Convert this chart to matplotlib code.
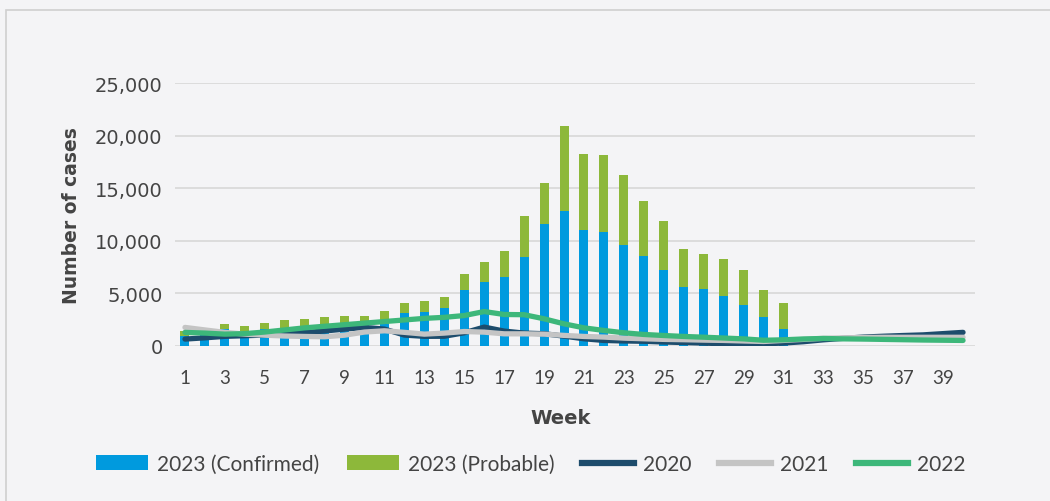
import matplotlib
matplotlib.use("Agg")
import matplotlib.pyplot as plt
from matplotlib.patches import Rectangle, Patch
from matplotlib.lines import Line2D
from matplotlib.ticker import FuncFormatter, MultipleLocator

weeks = list(range(1, 41))
weeks_2023 = list(range(1, 32))
confirmed_2023 = [900, 1100, 1580, 1300, 1580, 1650, 1700, 1800, 1900, 2000,
                  2100, 3100, 3200, 3600, 5300, 6070, 6580, 8480, 11590, 12830,
                  11020, 10830, 9590, 8550, 7220, 5600, 5410, 4740, 3880, 2740, 1600]
total_2023 = [1400, 1680, 2060, 1870, 2150, 2470, 2530, 2720, 2820, 2820,
              3290, 4050, 4240, 4620, 6820, 7970, 9020, 12350, 15490, 20900,
              18240, 18150, 16250, 13780, 11880, 9220, 8720, 8250, 7210, 5310, 4080]
probable_2023 = [t - c for t, c in zip(total_2023, confirmed_2023)]

cases_2020 = [630, 750, 890, 950, 1010, 1100, 1250, 1400, 1580, 1740,
              1580, 1010, 890, 900, 1230, 1770, 1390, 1200, 1140, 910,
              660, 500, 450, 420, 350, 300, 250, 180, 170, 180,
              250, 380, 560, 700, 820, 900, 970, 1030, 1150, 1270]
cases_2021 = [1740, 1500, 1270, 1100, 1000, 920, 880, 850, 1000, 1300,
              1420, 1270, 1100, 1200, 1350, 1290, 1130, 1130, 1100, 980,
              880, 820, 720, 660, 600, 570, 530, 500, 450, 400,
              500, 600, 700, 750, 780, 800, 800, 800, 800, 800]
cases_2022 = [1265, 1200, 1100, 1150, 1300, 1500, 1700, 1850, 2000, 2150,
              2300, 2450, 2600, 2700, 2870, 3250, 2970, 2950, 2560, 2080,
              1700, 1450, 1230, 1070, 970, 880, 810, 730, 650, 520,
              560, 640, 690, 650, 630, 600, 570, 540, 520, 500]

xtick_labels = [str(w) for w in range(1, 40, 2)]
legend_labels = ["2023 (Confirmed)", "2023 (Probable)", "2020", "2021", "2022"]

BG = "#f4f4f6"
C_CONF = "#009ade"
C_PROB = "#8db83a"
C_2020 = "#1d4c6c"
C_2021 = "#c4c4c4"
C_2022 = "#3db77a"
TXT = "#444444"

fig = plt.figure(figsize=(10.5, 5.02), dpi=100, facecolor=BG)
fig.patches.append(Rectangle((6 / 1050, -0.05), 1.2, (502 - 11) / 502 + 0.05,
                             transform=fig.transFigure, fill=False,
                             edgecolor="#cfcfcf", linewidth=1.2))

ax = fig.add_axes([175 / 1050, (502 - 346.7) / 502, 800 / 1050, (346.7 - 84) / 502])
ax.set_facecolor(BG)

bw = 0.45
ax.bar(weeks_2023, confirmed_2023, width=bw, color=C_CONF, zorder=2)
ax.bar(weeks_2023, probable_2023, width=bw, bottom=confirmed_2023, color=C_PROB, zorder=2)

lw = 3.8
ax.plot(weeks, cases_2020, color=C_2020, lw=lw, solid_capstyle="round", solid_joinstyle="round", zorder=3)
ax.plot(weeks, cases_2021, color=C_2021, lw=lw, solid_capstyle="round", solid_joinstyle="round", zorder=4)
ax.plot(weeks, cases_2022, color=C_2022, lw=lw, solid_capstyle="round", solid_joinstyle="round", zorder=5)

ax.set_xlim(0.5, 40.6)
ax.set_ylim(0, 25000)
ax.yaxis.set_major_locator(MultipleLocator(5000))
ax.yaxis.set_major_formatter(FuncFormatter(lambda v, p: f"{int(v):,}"))
ax.set_xticks(list(range(1, 40, 2)))
ax.set_xticklabels(xtick_labels)
ax.grid(axis="y", color="#dcdcdc", linewidth=1.4, zorder=0)
ax.set_axisbelow(True)
for s in ax.spines.values():
    s.set_visible(False)
ax.tick_params(axis="both", length=0, colors=TXT)
ax.tick_params(axis="y", pad=9, labelsize=14)
ax.tick_params(axis="x", pad=17, labelsize=13.5)
for t in ax.get_yticklabels():
    t.set_fontfamily("DejaVu Sans")
for t in ax.get_xticklabels():
    t.set_fontfamily("Lato")

ax.set_ylabel("Number of cases", fontsize=13.5, fontweight="bold", color=TXT, labelpad=10)
ax.set_xlabel("Week", fontsize=14, fontweight="bold", color=TXT)
ax.xaxis.set_label_coords((561 - 175) / 800, -(419 - 346.7) / (346.7 - 84))
ax.xaxis.label.set_verticalalignment("center")

handles = [Patch(facecolor=C_CONF), Patch(facecolor=C_PROB),
           Line2D([], [], color=C_2020, lw=4.5), Line2D([], [], color=C_2021, lw=4.5),
           Line2D([], [], color=C_2022, lw=4.5)]
leg = fig.legend(handles, legend_labels, loc="center", bbox_to_anchor=(531 / 1050, (502 - 465) / 502),
                 ncol=5, frameon=False, handlelength=2.5, handleheight=0.7, handletextpad=0.45,
                 columnspacing=1.3, prop={"family": "Lato", "size": 15})
for t in leg.get_texts():
    t.set_color(TXT)

fig.savefig("out.png", dpi=100, facecolor=BG)
